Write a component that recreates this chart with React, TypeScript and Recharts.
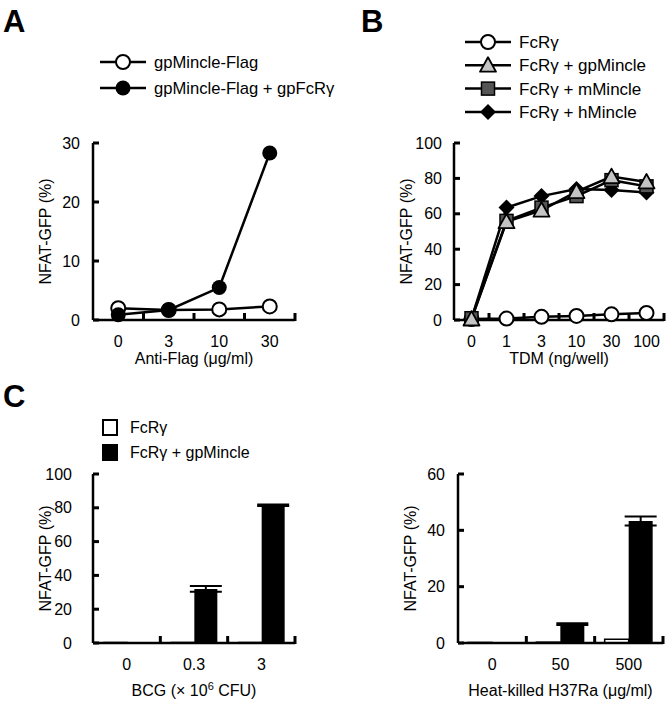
import { LineChart, Line, BarChart, Bar, XAxis, YAxis, Legend, ErrorBar } from 'recharts'

const FONT = '"Liberation Sans", Arial, Helvetica, sans-serif'

// panel A
const doseA = ['0', '3', '10', '30']
const flagOnly = [2.0, 1.7, 1.8, 2.3]
const flagWithFcR = [0.9, 1.7, 5.5, 28.3]
const yTicksA = [0, 10, 20, 30]

// panel B
const doseB = ['0', '1', '3', '10', '30', '100']
const fcrOnly = [0.5, 0.8, 1.8, 2.3, 3.2, 4.0]
const fcrGp = [0.5, 55.5, 62, 72.5, 81, 78]
const fcrM = [1.0, 56, 63.5, 70, 79, 75.5]
const fcrH = [0.8, 63.5, 70, 74, 73.5, 72]
const yTicksB = [0, 20, 40, 60, 80, 100]

// panel C
const doseBCG = ['0', '0.3', '3']
const bcgFcr = [0.3, 0.3, 0.3]
const bcgGp = [0.3, 32, 81.5]
const bcgGpErr = [0, 1.7, 0.4]
const yTicksCL = [0, 20, 40, 60, 80, 100]

const doseH37 = ['0', '50', '500']
const h37Fcr = [0.2, 0.3, 1.3]
const h37Gp = [0.3, 6.7, 43.3]
const h37GpErr = [0, 0.3, 1.6]
const yTicksCR = [0, 20, 40, 60]

const dataA = doseA.map((d, i) => ({ dose: d, flag: flagOnly[i], flagFcR: flagWithFcR[i] }))
const dataB = doseB.map((d, i) => ({ dose: d, fcr: fcrOnly[i], gp: fcrGp[i], m: fcrM[i], h: fcrH[i] }))
const dataCL = doseBCG.map((d, i) => ({ dose: d, fcr: bcgFcr[i], gp: bcgGp[i], gpErr: bcgGpErr[i] }))
const dataCR = doseH37.map((d, i) => ({ dose: d, fcr: h37Fcr[i], gp: h37Gp[i], gpErr: h37GpErr[i] }))

type Shape = 'open' | 'filled' | 'triangle' | 'square' | 'diamond'

function Marker({ shape, cx, cy }: { shape: Shape; cx: number; cy: number }) {
  if (shape === 'open') return <circle cx={cx} cy={cy} r={7} fill="#fff" stroke="#000" strokeWidth={2} />
  if (shape === 'filled') return <circle cx={cx} cy={cy} r={7.5} fill="#000" />
  if (shape === 'triangle') {
    const s = 8
    return (
      <polygon
        points={`${cx},${cy - s} ${cx + s},${cy + s * 0.8} ${cx - s},${cy + s * 0.8}`}
        fill="#c4c4c4"
        stroke="#000"
        strokeWidth={1.8}
        strokeLinejoin="round"
      />
    )
  }
  if (shape === 'square') return <rect x={cx - 6.5} y={cy - 6.5} width={13} height={13} fill="#555" stroke="#000" strokeWidth={1.5} />
  return <polygon points={`${cx},${cy - 8} ${cx + 8},${cy} ${cx},${cy + 8} ${cx - 8},${cy}`} fill="#000" />
}

const dotOf = (shape: Shape) => (p: any) => <Marker key={`${shape}-${p.index}`} shape={shape} cx={p.cx} cy={p.cy} />

// category label plus an inward tick at the right edge of its band
const xTick = (step: number) => (p: any) => {
  const x = Number(p.x)
  const y = Number(p.y)
  const bx = x + step / 2
  return (
    <g>
      <rect x={bx - 1.5} y={y - 7} width={3} height={8} fill="#000" />
      <text x={x} y={y + 27} textAnchor="middle" fontSize={16} fontFamily={FONT} fill="#000">
        {p.payload.value}
      </text>
    </g>
  )
}

// tick marks come from the axis itself (inward), this only places the number
const yTick = (gap: number) => (p: any) => (
  <text x={Number(p.x) - gap} y={Number(p.y) + 5.5} textAnchor="end" fontSize={16} fontFamily={FONT} fill="#000">
    {p.payload.value}
  </text>
)

const yTitle = (props: any) => {
  const vb = props.viewBox
  const cx = vb.x + vb.width - 48
  const cy = vb.y + vb.height / 2
  return (
    <text
      x={cx}
      y={cy}
      transform={`rotate(-90, ${cx}, ${cy})`}
      textAnchor="middle"
      dominantBaseline="central"
      fontSize={16}
      fontFamily={FONT}
      fill="#000"
    >
      NFAT-GFP (%)
    </text>
  )
}

const xTitle = (content: React.ReactNode, dy: number) => (props: any) => {
  const vb = props.viewBox
  return (
    <text x={vb.x + vb.width / 2} y={vb.y + dy} textAnchor="middle" fontSize={16} fontFamily={FONT} fill="#000">
      {content}
    </text>
  )
}

const lineLegend = (items: { shape: Shape; label: React.ReactNode }[], rowH: number, w: number, fs: number) => () => (
  <svg width={w} height={items.length * rowH + 10} style={{ overflow: 'visible', display: 'block' }}>
    {items.map((it, i) => {
      const cy = 12 + i * rowH
      return (
        <g key={i}>
          <line x1={4} x2={50} y1={cy} y2={cy} stroke="#000" strokeWidth={2.5} />
          <Marker shape={it.shape} cx={27} cy={cy} />
          <text x={58} y={cy + 6} fontSize={fs} fontFamily={FONT} fill="#000">
            {it.label}
          </text>
        </g>
      )
    })}
  </svg>
)

const barLegend = () => (
  <svg width={200} height={60} style={{ overflow: 'visible', display: 'block' }}>
    <rect x={8} y={10} width={14} height={15} fill="#fff" stroke="#000" strokeWidth={2} />
    <text x={35} y={23} fontSize={16} fontFamily={FONT} fill="#000">FcRγ</text>
    <rect x={7} y={34} width={16} height={17} fill="#000" />
    <text x={35} y={48} fontSize={16} fontFamily={FONT} fill="#000">FcRγ + gpMincle</text>
  </svg>
)

const axisLine = { stroke: '#000', strokeWidth: 2.5 }
const yTickLine = { stroke: '#000', strokeWidth: 3 }
const AW = 30

function PanelLetter({ children, left, top }: { children: string; left: number; top: number }) {
  return (
    <div style={{ position: 'absolute', left, top, fontFamily: FONT, fontWeight: 'bold', fontSize: 31, lineHeight: 1 }}>
      {children}
    </div>
  )
}

export default function App() {
  const stepA = 202 / doseA.length
  const stepB = 210 / doseB.length
  const stepCL = 202 / doseBCG.length
  const stepCR = 205 / doseH37.length

  return (
    <div style={{ position: 'absolute', left: 0, top: 0, width: 669, height: 707, background: '#fff', fontFamily: FONT }}>
      <PanelLetter left={3} top={6}>A</PanelLetter>
      <PanelLetter left={361} top={6}>B</PanelLetter>
      <PanelLetter left={3} top={381}>C</PanelLetter>

      <div style={{ position: 'absolute', left: 0, top: 0 }}>
        <LineChart width={330} height={370} data={dataA} margin={{ top: 143, right: 35, bottom: 20, left: 93 - AW }}>
          <XAxis
            dataKey="dose"
            height={AW}
            interval={0}
            padding={{ left: stepA / 2, right: stepA / 2 }}
            axisLine={axisLine}
            tickLine={false}
            tickSize={0}
            tickMargin={0}
            tick={xTick(stepA)}
            label={xTitle('Anti-Flag (μg/ml)', 44)}
          />
          <YAxis
            width={AW}
            domain={[0, 30]}
            ticks={yTicksA}
            interval={0}
            axisLine={axisLine}
            tickLine={yTickLine}
            tickSize={-6}
            tickMargin={6}
            tick={yTick(13)}
            label={yTitle}
          />
          <Legend
            layout="vertical"
            align="center"
            verticalAlign="middle"
            wrapperStyle={{ left: 96, top: 50, width: 240 }}
            content={lineLegend(
              [
                { shape: 'open', label: 'gpMincle-Flag' },
                { shape: 'filled', label: 'gpMincle-Flag + gpFcRγ' },
              ],
              26,
              240,
              16.6,
            )}
          />
          <Line dataKey="flag" name="gpMincle-Flag" stroke="#000" strokeWidth={2.5} dot={dotOf('open')} activeDot={false} isAnimationActive={false} />
          <Line dataKey="flagFcR" name="gpMincle-Flag + gpFcRγ" stroke="#000" strokeWidth={2.5} dot={dotOf('filled')} activeDot={false} isAnimationActive={false} />
        </LineChart>
      </div>

      <div style={{ position: 'absolute', left: 330, top: 0 }}>
        <LineChart width={339} height={370} data={dataB} margin={{ top: 143, right: 5, bottom: 20, left: 124 - AW }}>
          <XAxis
            dataKey="dose"
            height={AW}
            interval={0}
            padding={{ left: stepB / 2, right: stepB / 2 }}
            axisLine={axisLine}
            tickLine={false}
            tickSize={0}
            tickMargin={0}
            tick={xTick(stepB)}
            label={xTitle('TDM (ng/well)', 44)}
          />
          <YAxis
            width={AW}
            domain={[0, 100]}
            ticks={yTicksB}
            interval={0}
            axisLine={axisLine}
            tickLine={yTickLine}
            tickSize={-6}
            tickMargin={6}
            tick={yTick(12)}
            label={yTitle}
          />
          <Legend
            layout="vertical"
            align="center"
            verticalAlign="middle"
            wrapperStyle={{ left: 131, top: 30, width: 200 }}
            content={lineLegend(
              [
                { shape: 'open', label: 'FcRγ' },
                { shape: 'triangle', label: 'FcRγ + gpMincle' },
                { shape: 'square', label: 'FcRγ + mMincle' },
                { shape: 'diamond', label: 'FcRγ + hMincle' },
              ],
              23.3,
              200,
              17,
            )}
          />
          <Line dataKey="fcr" stroke="#000" strokeWidth={2.5} dot={dotOf('open')} activeDot={false} isAnimationActive={false} />
          <Line dataKey="h" stroke="#000" strokeWidth={2.5} dot={dotOf('diamond')} activeDot={false} isAnimationActive={false} />
          <Line dataKey="m" stroke="#000" strokeWidth={2.5} dot={dotOf('square')} activeDot={false} isAnimationActive={false} />
          <Line dataKey="gp" stroke="#000" strokeWidth={2.5} dot={dotOf('triangle')} activeDot={false} isAnimationActive={false} />
        </LineChart>
      </div>

      <div style={{ position: 'absolute', left: 0, top: 370 }}>
        <BarChart width={330} height={337} data={dataCL} barSize={23} barGap={0} margin={{ top: 104, right: 35, bottom: 34, left: 93 - AW }}>
          <XAxis
            dataKey="dose"
            height={AW}
            interval={0}
            axisLine={axisLine}
            tickLine={false}
            tickSize={0}
            tickMargin={0}
            tick={xTick(stepCL)}
            label={xTitle(
              <>
                BCG (× 10<tspan fontSize={11} dy={-6}>6</tspan>
                <tspan dy={6}> CFU)</tspan>
              </>,
              53,
            )}
          />
          <YAxis
            width={AW}
            domain={[0, 100]}
            ticks={yTicksCL}
            interval={0}
            axisLine={axisLine}
            tickLine={yTickLine}
            tickSize={-6}
            tickMargin={6}
            tick={yTick(21)}
            label={yTitle}
          />
          <Legend layout="vertical" align="center" verticalAlign="middle" wrapperStyle={{ left: 95, top: 40, width: 200 }} content={barLegend} />
          <Bar dataKey="fcr" fill="#fff" stroke="#000" strokeWidth={1.5} isAnimationActive={false} />
          <Bar dataKey="gp" fill="#000" isAnimationActive={false}>
            <ErrorBar dataKey="gpErr" width={16} stroke="#000" strokeWidth={2} direction="y" />
          </Bar>
        </BarChart>
      </div>

      <div style={{ position: 'absolute', left: 330, top: 370 }}>
        <BarChart width={339} height={337} data={dataCR} barSize={24} barGap={0} margin={{ top: 104, right: 6, bottom: 34, left: 128 - AW }}>
          <XAxis
            dataKey="dose"
            height={AW}
            interval={0}
            axisLine={axisLine}
            tickLine={false}
            tickSize={0}
            tickMargin={0}
            tick={xTick(stepCR)}
            label={xTitle('Heat-killed H37Ra (μg/ml)', 53)}
          />
          <YAxis
            width={AW}
            domain={[0, 60]}
            ticks={yTicksCR}
            interval={0}
            axisLine={axisLine}
            tickLine={yTickLine}
            tickSize={-6}
            tickMargin={6}
            tick={yTick(13)}
            label={yTitle}
          />
          <Bar dataKey="fcr" fill="#fff" stroke="#000" strokeWidth={1.5} isAnimationActive={false} />
          <Bar dataKey="gp" fill="#000" isAnimationActive={false}>
            <ErrorBar dataKey="gpErr" width={16} stroke="#000" strokeWidth={2} direction="y" />
          </Bar>
        </BarChart>
      </div>
    </div>
  )
}
